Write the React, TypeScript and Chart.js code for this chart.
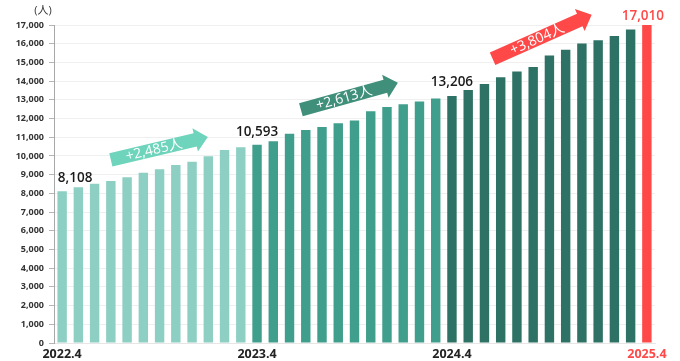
import React, { useEffect, useRef } from 'react';
import { Chart, registerables } from 'chart.js';

Chart.register(...registerables);

const categories = [
  '2022.4', '2022.5', '2022.6', '2022.7', '2022.8', '2022.9', '2022.10', '2022.11', '2022.12', '2023.1', '2023.2', '2023.3',
  '2023.4', '2023.5', '2023.6', '2023.7', '2023.8', '2023.9', '2023.10', '2023.11', '2023.12', '2024.1', '2024.2', '2024.3',
  '2024.4', '2024.5', '2024.6', '2024.7', '2024.8', '2024.9', '2024.10', '2024.11', '2024.12', '2025.1', '2025.2', '2025.3',
  '2025.4',
];

const headcount = [
  8108, 8320, 8520, 8660, 8860, 9100, 9290, 9520, 9690, 9980, 10320, 10460,
  10593, 10790, 11180, 11390, 11550, 11750, 11890, 12390, 12610, 12770, 12910, 13070,
  13206, 13530, 13840, 14210, 14510, 14750, 15370, 15680, 16010, 16190, 16410, 16760,
  17010,
];

// indices of the April milestones (labelled categories)
const milestoneIdx = [0, 12, 24, 36];

const yMin = 0;
const yMax = 17000;
const yStep = 1000;
const unitLabel = '(人)';

const LIGHT = '#8dcfc3';
const MID = '#409e8c';
const DARK = '#2e7265';
const RED = '#ff4848';
const ARROW_COLORS = ['#6fd4bc', '#3f8f7b', '#ff4848'];

const FONT = '"Open Sans", "Noto Sans CJK JP", sans-serif';

function barColor(i: number) {
  if (i >= milestoneIdx[3]) return RED;
  if (i >= milestoneIdx[2]) return DARK;
  if (i >= milestoneIdx[1]) return MID;
  return LIGHT;
}

// arrow geometry: start/end in (category index, value) space
const arrowGeom = [
  { from: [3.0, 9786], to: [8.97, 11018] },
  { from: [14.7, 12466], to: [20.67, 13912] },
  { from: [26.5, 15195], to: [32.6, 17552] },
];

const overlayPlugin = {
  id: 'overlay',
  afterDatasetsDraw(chart: any) {
    const { ctx, scales } = chart;
    const x = scales.x;
    const y = scales.y;
    ctx.save();

    // milestone value labels
    const offs = [[13, -13], [0, -13], [0, -14], [-4, -9]];
    milestoneIdx.forEach((idx, k) => {
      const px = x.getPixelForValue(idx) + offs[k][0];
      const py = y.getPixelForValue(headcount[idx]) + offs[k][1];
      ctx.font = `600 13.5px ${FONT}`;
      ctx.fillStyle = k === 3 ? RED : '#1a1a1a';
      ctx.textAlign = 'center';
      ctx.textBaseline = 'middle';
      ctx.fillText(headcount[idx].toLocaleString('en-US'), px, py);
    });

    // growth arrows
    arrowGeom.forEach((g, k) => {
      const x0 = x.getPixelForValue(g.from[0]);
      const y0 = y.getPixelForValue(g.from[1]);
      const x1 = x.getPixelForValue(g.to[0]);
      const y1 = y.getPixelForValue(g.to[1]);
      const L = Math.hypot(x1 - x0, y1 - y0);
      const ang = Math.atan2(y1 - y0, x1 - x0);
      const h = 6.8;
      const H = 12;
      const head = 13;
      ctx.save();
      ctx.translate(x0, y0);
      ctx.rotate(ang);
      ctx.beginPath();
      ctx.moveTo(0, -h);
      ctx.lineTo(L - head, -h);
      ctx.lineTo(L - head, -H);
      ctx.lineTo(L, 0);
      ctx.lineTo(L - head, H);
      ctx.lineTo(L - head, h);
      ctx.lineTo(0, h);
      ctx.closePath();
      ctx.fillStyle = ARROW_COLORS[k];
      ctx.fill();
      const diff = headcount[milestoneIdx[k + 1]] - headcount[milestoneIdx[k]];
      ctx.fillStyle = '#ffffff';
      ctx.font = `14px ${FONT}`;
      ctx.textAlign = 'center';
      ctx.textBaseline = 'middle';
      ctx.fillText(`+${diff.toLocaleString('en-US')}人`, (L - head) / 2 + 1, 0.5);
      ctx.restore();
    });

    // unit label
    ctx.font = `11px ${FONT}`;
    ctx.fillStyle = '#333';
    ctx.textAlign = 'center';
    ctx.textBaseline = 'middle';
    ctx.fillText(unitLabel, y.right - 11, y.top - 14);

    ctx.restore();
  },
};

export default function App() {
  const ref = useRef<HTMLCanvasElement | null>(null);

  useEffect(() => {
    if (!ref.current) return;
    const chart = new Chart(ref.current, {
      type: 'bar',
      data: {
        labels: categories,
        datasets: [
          {
            data: headcount,
            backgroundColor: headcount.map((_, i) => barColor(i)),
            borderWidth: 0,
            categoryPercentage: 1,
            barPercentage: 0.58,
          },
        ],
      },
      options: {
        animation: false,
        responsive: false,
        layout: { padding: { top: 25, right: 25, left: 0, bottom: 0 } },
        plugins: {
          legend: { display: false },
          tooltip: { enabled: false },
        },
        scales: {
          x: {
            grid: { display: false, drawTicks: false },
            border: { color: '#e6e6e6' },
            ticks: {
              autoSkip: false,
              maxRotation: 0,
              padding: 4,
              font: { family: FONT, size: 12.5, weight: 'bold' },
              color: (c: any) => (c.index === milestoneIdx[3] ? RED : '#222'),
              callback: (_v: any, i: number) => (milestoneIdx.includes(i) ? categories[i] : ''),
            },
            afterFit: (s: any) => {
              s.height = 18;
            },
          },
          y: {
            min: yMin,
            max: yMax,
            grid: { color: '#efefef', tickColor: '#b5b5b5', tickLength: 5 },
            border: { color: '#a8a8a8' },
            ticks: {
              stepSize: yStep,
              padding: 5,
              font: { family: FONT, size: 9, weight: 'bold' },
              color: '#333',
              callback: (v: any) => Number(v).toLocaleString('en-US'),
            },
            afterFit: (s: any) => {
              s.width = 54;
            },
          },
        },
      },
      plugins: [overlayPlugin],
    });
    return () => chart.destroy();
  }, []);

  return (
    <div style={{ position: 'absolute', left: 0, top: 0, width: 680, height: 361, background: '#fff' }}>
      <canvas ref={ref} width={680} height={361} style={{ display: 'block' }} />
    </div>
  );
}
